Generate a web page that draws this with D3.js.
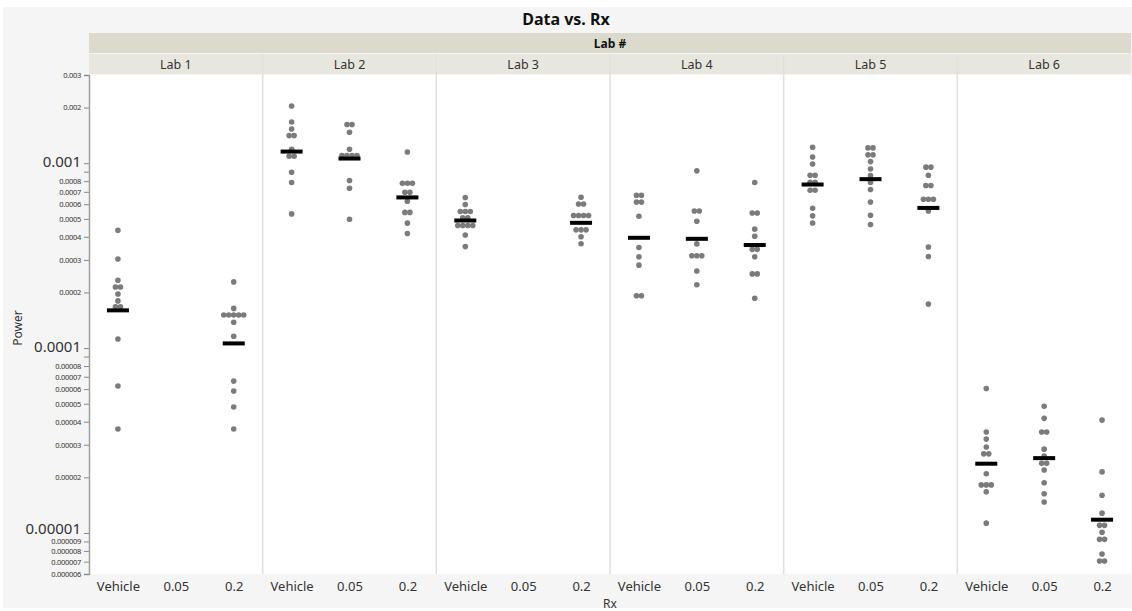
<!DOCTYPE html>
<html>
<head>
<meta charset="utf-8">
<script src="https://cdn.jsdelivr.net/npm/d3@7"></script>
<style>
body { margin: 0; background: #fff; }
text { font-family: "Noto Sans", "Open Sans", sans-serif; }
</style>
</head>
<body>
<script>
var labs = ["Lab 1", "Lab 2", "Lab 3", "Lab 4", "Lab 5", "Lab 6"];
var rxLevels = ["Vehicle", "0.05", "0.2"];

// readings per lab and Rx (Power)
var lab1Vehicle = [0.000434, 0.000303, 0.000233, 0.000214, 0.000214, 0.000196, 0.00018, 0.000167, 0.000167, 0.000112, 0.0000624, 0.0000365];
var lab1Rx005 = [];
var lab1Rx02 = [0.000228, 0.000164, 0.000151, 0.000151, 0.000151, 0.000151, 0.000151, 0.000138, 0.000116, 0.0000663, 0.0000586, 0.000048, 0.0000365];
var lab2Vehicle = [0.00204, 0.00167, 0.00153, 0.00141, 0.00141, 0.00119, 0.00109, 0.00109, 0.000894, 0.000787, 0.000532];
var lab2Rx005 = [0.00162, 0.00162, 0.00147, 0.00119, 0.0011, 0.0011, 0.0011, 0.0011, 0.000806, 0.000732, 0.000498];
var lab2Rx02 = [0.00115, 0.000779, 0.000779, 0.000779, 0.000697, 0.000697, 0.000623, 0.000542, 0.000542, 0.000474, 0.000417];
var lab3Vehicle = [0.000653, 0.000598, 0.000548, 0.000548, 0.000548, 0.000506, 0.000506, 0.00046, 0.00046, 0.00046, 0.00046, 0.000409, 0.000354];
var lab3Rx005 = [];
var lab3Rx02 = [0.000655, 0.000602, 0.000602, 0.000521, 0.000521, 0.000521, 0.000521, 0.000436, 0.000436, 0.000436, 0.0004, 0.000367];
var lab4Vehicle = [0.000671, 0.000671, 0.000616, 0.000616, 0.000517, 0.00035, 0.000312, 0.000281, 0.000192, 0.000192];
var lab4Rx005 = [0.000909, 0.000551, 0.000551, 0.000485, 0.000366, 0.000316, 0.000316, 0.000316, 0.000261, 0.00022];
var lab4Rx02 = [0.000787, 0.000538, 0.000538, 0.00044, 0.000403, 0.000342, 0.000342, 0.000312, 0.000252, 0.000252, 0.000186];
var lab5Vehicle = [0.00122, 0.00108, 0.000991, 0.000861, 0.000861, 0.000789, 0.000789, 0.000714, 0.000714, 0.000571, 0.000519, 0.000475];
var lab5Rx005 = [0.00121, 0.00121, 0.00111, 0.00111, 0.00102, 0.000931, 0.000858, 0.000787, 0.000721, 0.000616, 0.000523, 0.000466];
var lab5Rx02 = [0.000952, 0.000952, 0.000861, 0.000757, 0.000757, 0.000638, 0.000638, 0.000638, 0.000552, 0.000352, 0.000313, 0.000173];
var lab6Vehicle = [0.0000605, 0.0000352, 0.0000322, 0.0000292, 0.0000268, 0.0000268, 0.0000209, 0.0000182, 0.0000182, 0.0000182, 0.0000167, 0.0000113];
var lab6Rx005 = [0.0000485, 0.0000417, 0.0000352, 0.0000352, 0.0000284, 0.0000261, 0.0000238, 0.0000238, 0.0000219, 0.0000187, 0.0000163, 0.0000147];
var lab6Rx02 = [0.0000408, 0.0000214, 0.000016, 0.0000128, 0.000011, 0.000011, 0.0000101, 0.00000924, 0.00000924, 0.00000769, 0.00000706, 0.00000706];

// mean bars per lab
var meanVehicle = [0.00016, 0.001156, 0.00049, 0.000395, 0.000767, 0.0000237];
var mean005 = [null, 0.00106, null, 0.00039, 0.00082, 0.0000254];
var mean02 = [0.000106, 0.000653, 0.000476, 0.000361, 0.000573, 0.0000118];

var tickValues = [0.003, 0.002, 0.001, 0.0009, 0.0008, 0.0007, 0.0006, 0.0005, 0.0004, 0.0003, 0.0002,
  0.0001, 0.00009, 0.00008, 0.00007, 0.00006, 0.00005, 0.00004, 0.00003, 0.00002,
  0.00001, 0.000009, 0.000008, 0.000007, 0.000006];
var bigTicks = [0.001, 0.0001, 0.00001];
var unlabeled = [0.0009, 0.00009];

var columns = [
  [lab1Vehicle, lab1Rx005, lab1Rx02], [lab2Vehicle, lab2Rx005, lab2Rx02], [lab3Vehicle, lab3Rx005, lab3Rx02],
  [lab4Vehicle, lab4Rx005, lab4Rx02], [lab5Vehicle, lab5Rx005, lab5Rx02], [lab6Vehicle, lab6Rx005, lab6Rx02]
];
var means = [meanVehicle, mean005, mean02];

var svgWidth = 1132, svgHeight = 611;
var margin = {top: 75, right: 1, bottom: 37, left: 89};
var height = svgHeight - margin.top - margin.bottom;
var width = svgWidth - margin.left - margin.right;

var svg = d3.select("body").append("svg").attr("width", svgWidth).attr("height", svgHeight);
svg.append("rect").attr("x", 3).attr("y", 7).attr("width", svgWidth - 3).attr("height", 601).attr("fill", "#f5f5f5");

var x0 = d3.scaleBand().domain(labs).range([margin.left, svgWidth - margin.right]);
var x1 = d3.scalePoint().domain(rxLevels).range([0, x0.bandwidth()]).padding(0.5);
var y = d3.scaleLog().domain([0.000006, 0.003]).range([margin.top + height, margin.top]);

// title + header strips
svg.append("text").attr("x", svgWidth / 2).attr("y", 25).attr("text-anchor", "middle")
  .attr("font-size", "16px").attr("font-weight", "bold").attr("fill", "#111").text("Data vs. Rx");
svg.append("rect").attr("x", margin.left).attr("y", 33).attr("width", width).attr("height", 20).attr("fill", "#dcdacd");
svg.append("text").attr("x", margin.left + width / 2).attr("y", 47.5).attr("text-anchor", "middle")
  .attr("font-size", "12px").attr("font-weight", "bold").attr("fill", "#111").text("Lab #");

var strips = svg.append("g").selectAll("g").data(labs).enter().append("g");
strips.append("rect").attr("x", d => x0(d)).attr("y", 54).attr("width", x0.bandwidth()).attr("height", 20).attr("fill", "#e8e7df");
strips.append("text").attr("x", d => x0(d) + x0.bandwidth() / 2).attr("y", 68.5).attr("text-anchor", "middle")
  .attr("font-size", "12.5px").attr("fill", "#333").text(d => d);

// panels
svg.append("rect").attr("x", margin.left).attr("y", margin.top).attr("width", width).attr("height", height).attr("fill", "#fff");
labs.slice(1).forEach(function (lab) {
  svg.append("line").attr("x1", x0(lab)).attr("x2", x0(lab)).attr("y1", 54).attr("y2", margin.top + height)
    .attr("stroke", "#e0e0dc").attr("stroke-width", 1.5);
});

// y axis
var yAxis = d3.axisLeft(y).tickValues(tickValues).tickSize(5).tickPadding(3)
  .tickFormat(d => unlabeled.indexOf(d) >= 0 ? "" : String(d));
var yg = svg.append("g").attr("transform", `translate(${margin.left}, 0)`).call(yAxis);
yg.select(".domain").attr("stroke", "#a0a0a0").attr("stroke-width", 1.5);
yg.selectAll(".tick line").attr("stroke", "#888");
yg.selectAll(".tick text").attr("fill", "#333").attr("font-family", "\"Noto Sans\", sans-serif")
  .attr("font-size", d => bigTicks.indexOf(d) >= 0 ? "15px" : "7.5px")
  .attr("letter-spacing", d => bigTicks.indexOf(d) >= 0 ? "0" : "-0.3px")
  .attr("dy", d => d === 0.00001 ? "0.05em" : bigTicks.indexOf(d) >= 0 ? "0.22em" : "0.32em");

// x axis labels per panel
labs.forEach(function (lab) {
  var g = svg.append("g").attr("transform", `translate(${x0(lab)}, ${margin.top + height})`);
  g.call(d3.axisBottom(x1).tickSize(0).tickPadding(8));
  g.select(".domain").remove();
  g.selectAll(".tick text").attr("font-size", "13px").attr("fill", "#333").attr("font-family", "\"Noto Sans\", sans-serif");
});

svg.append("text").attr("x", margin.left + width / 2).attr("y", 608).attr("text-anchor", "middle")
  .attr("font-size", "12px").attr("fill", "#333").text("Rx");
svg.append("text").attr("transform", `translate(22, 328) rotate(-90)`).attr("text-anchor", "middle")
  .attr("font-size", "12px").attr("fill", "#333").text("Power");

// points, stacked side by side where they coincide
var points = [];
labs.forEach(function (lab, li) {
  rxLevels.forEach(function (rx, ri) {
    var vals = columns[li][ri].slice().sort(d3.descending);
    var rows = [];
    vals.forEach(function (v) {
      var last = rows[rows.length - 1];
      if (last && Math.abs(y(last[0]) - y(v)) < 2) last.push(v); else rows.push([v]);
    });
    rows.forEach(function (row) {
      row.forEach(function (v, i) {
        points.push({lab: lab, rx: rx, value: v, off: (i - (row.length - 1) / 2) * 5});
      });
    });
  });
});

svg.append("g").selectAll("circle").data(points).enter().append("circle")
  .attr("cx", d => x0(d.lab) + x1(d.rx) + d.off).attr("cy", d => y(d.value))
  .attr("r", 2.8).attr("fill", "#7b7b7b");

var bars = [];
labs.forEach(function (lab, li) {
  rxLevels.forEach(function (rx, ri) {
    if (means[ri][li] != null) bars.push({lab: lab, rx: rx, value: means[ri][li]});
  });
});
svg.append("g").selectAll("rect").data(bars).enter().append("rect")
  .attr("x", d => x0(d.lab) + x1(d.rx) - 11).attr("y", d => y(d.value) - 2)
  .attr("width", 22).attr("height", 4).attr("fill", "#000");
</script>
</body>
</html>
